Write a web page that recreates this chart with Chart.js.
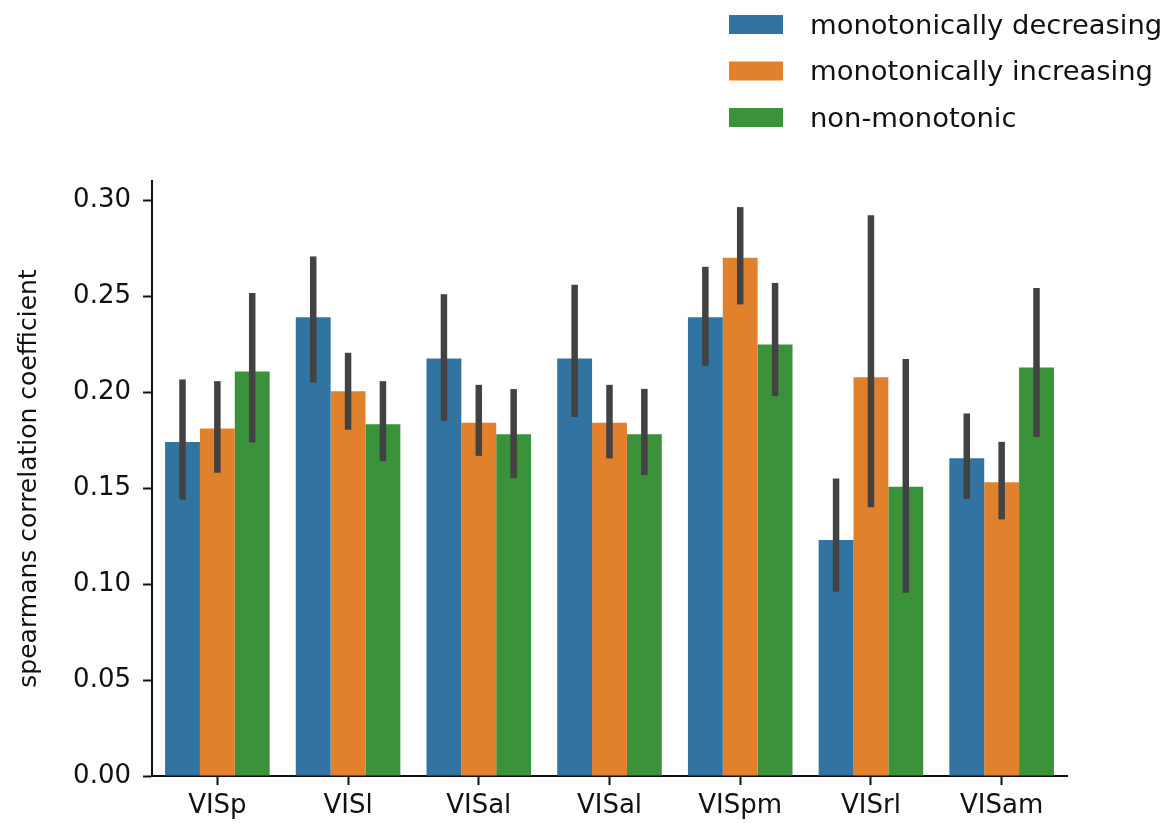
<!DOCTYPE html>
<html>
<head>
<meta charset="utf-8">
<title>Spearman correlation by visual area</title>
<script src="https://cdn.jsdelivr.net/npm/chart.js@4/dist/chart.umd.min.js"></script>
<style>
  html, body { margin: 0; padding: 0; background: #ffffff; }
  #wrap { width: 1170px; height: 823px; position: relative; }
</style>
</head>
<body>
<div id="wrap"><canvas id="chart"></canvas></div>
<script>
// Visual areas on the x axis
const areas = ['VISp', 'VISl', 'VISal', 'VISal', 'VISpm', 'VISrl', 'VISam'];

// Mean spearman correlation per tuning class
const decreasing    = [0.174, 0.239, 0.2175, 0.2175, 0.239, 0.123, 0.1655];
const increasing    = [0.181, 0.2004, 0.184, 0.184, 0.270, 0.2078, 0.153];
const nonMonotonic  = [0.2108, 0.1833, 0.178, 0.178, 0.2248, 0.1507, 0.2128];

// Confidence interval bounds (low / high)
const decreasingLo   = [0.144, 0.205, 0.185, 0.187, 0.2137, 0.096, 0.1444];
const decreasingHi   = [0.2066, 0.2707, 0.251, 0.256, 0.2653, 0.155, 0.1889];
const increasingLo   = [0.158, 0.1804, 0.1668, 0.1655, 0.2457, 0.140, 0.1337];
const increasingHi   = [0.2057, 0.2205, 0.2038, 0.2038, 0.2964, 0.2922, 0.1741];
const nonMonotonicLo = [0.1738, 0.164, 0.1552, 0.1568, 0.1979, 0.0955, 0.1766];
const nonMonotonicHi = [0.2517, 0.2057, 0.2016, 0.2017, 0.2569, 0.2172, 0.2542];

// Y axis range and tick values
const yMin = 0;
const yMax = 0.31;
const yTicks = [0.00, 0.05, 0.10, 0.15, 0.20, 0.25, 0.30];

const FONT = 'DejaVu Sans';
const INK = '#111111';

// Vertical confidence-interval bars drawn at each bar's centre
const errorBars = {
  id: 'errorBars',
  afterDatasetsDraw(chart) {
    const ctx = chart.ctx;
    const y = chart.scales.y;
    ctx.save();
    ctx.strokeStyle = '#424242';
    ctx.lineWidth = 6.5;
    ctx.lineCap = 'butt';
    chart.data.datasets.forEach((ds, di) => {
      const meta = chart.getDatasetMeta(di);
      meta.data.forEach((bar, i) => {
        ctx.beginPath();
        ctx.moveTo(bar.x, y.getPixelForValue(ds.ciLow[i]));
        ctx.lineTo(bar.x, y.getPixelForValue(ds.ciHigh[i]));
        ctx.stroke();
      });
    });
    ctx.restore();
  }
};

// Stacked legend in the top-right corner
const stackedLegend = {
  id: 'stackedLegend',
  afterDraw(chart) {
    const ctx = chart.ctx;
    const boxX = 729, boxW = 54, boxH = 19;
    const rowTop = 15, rowGap = 46.5;
    ctx.save();
    ctx.font = '27.4px "' + FONT + '"';
    ctx.textBaseline = 'middle';
    ctx.textAlign = 'left';
    chart.data.datasets.forEach((ds, i) => {
      const top = rowTop + i * rowGap;
      ctx.fillStyle = ds.backgroundColor;
      ctx.fillRect(boxX, top, boxW, boxH);
      ctx.fillStyle = INK;
      ctx.fillText(ds.label, 810, top + boxH / 2 + 2);
    });
    ctx.restore();
  }
};

new Chart(document.getElementById('chart'), {
  type: 'bar',
  data: {
    labels: areas,
    datasets: [
      { label: 'monotonically decreasing', data: decreasing, ciLow: decreasingLo, ciHigh: decreasingHi, backgroundColor: '#3274a1' },
      { label: 'monotonically increasing', data: increasing, ciLow: increasingLo, ciHigh: increasingHi, backgroundColor: '#e1812c' },
      { label: 'non-monotonic', data: nonMonotonic, ciLow: nonMonotonicLo, ciHigh: nonMonotonicHi, backgroundColor: '#3a923a' }
    ]
  },
  options: {
    responsive: true,
    maintainAspectRatio: false,
    animation: false,
    devicePixelRatio: 1,
    layout: { padding: { top: 181, right: 103, bottom: 0, left: 0 } },
    datasets: { bar: { categoryPercentage: 0.8, barPercentage: 1.0, borderWidth: 0 } },
    plugins: {
      legend: { display: false },
      tooltip: { enabled: false }
    },
    scales: {
      x: {
        offset: true,
        grid: { offset: false, drawOnChartArea: false, drawTicks: true, tickLength: 9, tickWidth: 2, tickColor: INK },
        border: { display: true, color: INK, width: 2 },
        ticks: { color: INK, padding: 6, font: { family: FONT, size: 26 }, maxRotation: 0, autoSkip: false },
        afterFit(scale) { scale.height = 47; }
      },
      y: {
        min: yMin,
        max: yMax,
        grid: { drawOnChartArea: false, drawTicks: true, tickLength: 9, tickWidth: 2, tickColor: INK },
        border: { display: true, color: INK, width: 2 },
        ticks: {
          color: INK,
          padding: 12,
          font: { family: FONT, size: 26 },
          callback: v => v.toFixed(2)
        },
        afterBuildTicks(scale) {
          scale.ticks = yTicks.map(v => ({ value: v }));
        },
        title: {
          display: true,
          text: 'spearmans correlation coefficient',
          color: INK,
          font: { family: FONT, size: 25 },
          padding: { top: 14, bottom: 0 }
        },
        afterFit(scale) { scale.width = 152; }
      }
    }
  },
  plugins: [errorBars, stackedLegend]
});
</script>
</body>
</html>
